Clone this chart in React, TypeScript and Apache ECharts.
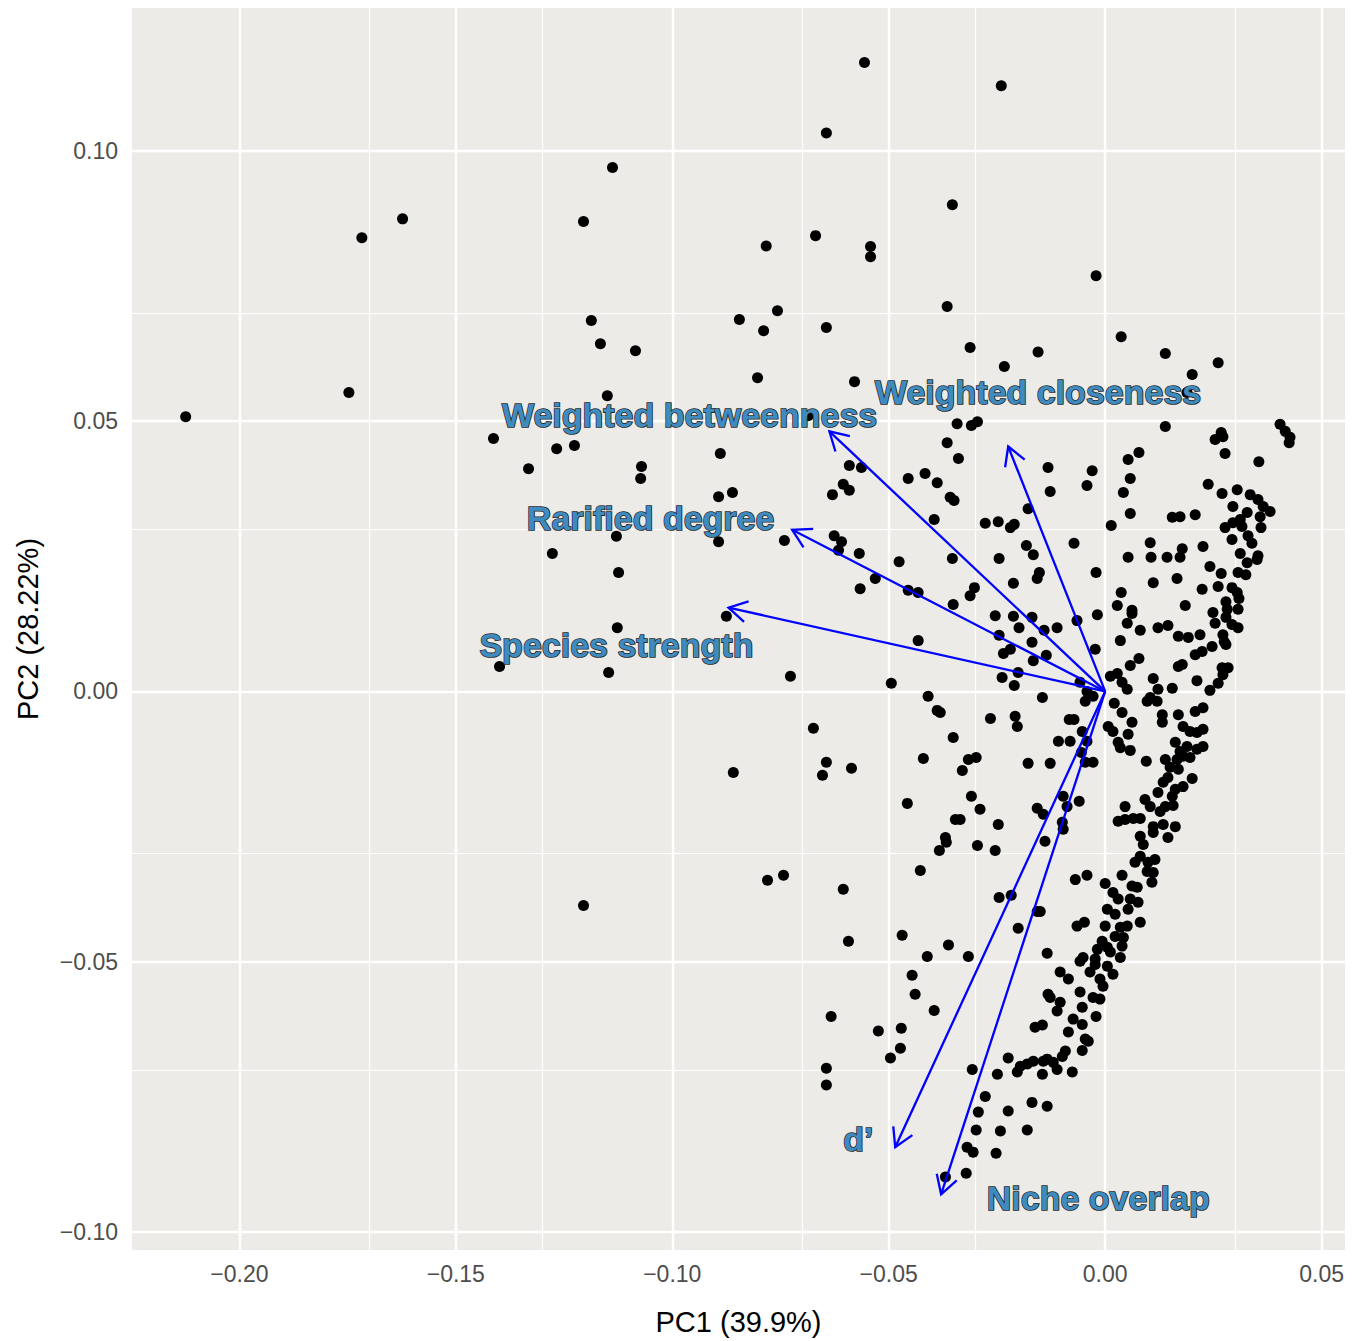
import React, { useEffect, useRef } from "react";
import * as echarts from "echarts";

// PCA scores (PC1, PC2)
const scores: number[][] = [
  [-0.0556,0.1163],[-0.0240,0.1120],[-0.0644,0.1033],[-0.1138,0.0969],[-0.1623,0.0874],[-0.1717,0.0839],[-0.1205,0.0869],[-0.0353,0.0900],[-0.0783,0.0824],[-0.0669,0.0843],[-0.0542,0.0823],[-0.0542,0.0804],[-0.0021,0.0769],[-0.0757,0.0704],[-0.0845,0.0688],[-0.0789,0.0667],[-0.0644,0.0673],[-0.0365,0.0712],[-0.1187,0.0686],[-0.1166,0.0643],[-0.1085,0.0630],[-0.0312,0.0636],[-0.0155,0.0628],[-0.0233,0.0601],[0.0037,0.0656],[0.0139,0.0625],[0.0261,0.0608],[0.0201,0.0586],[-0.0803,0.0580],[-0.0579,0.0573],[-0.1747,0.0553],[-0.2124,0.0508],[-0.1150,0.0547],[0.0189,0.0553],
  [-0.1413,0.0468],[-0.1267,0.0449],[-0.1226,0.0455],[-0.1332,0.0412],[-0.1071,0.0416],[-0.1073,0.0394],[-0.0889,0.0440],[-0.0893,0.0360],[-0.0861,0.0368],[-0.0591,0.0418],[-0.0563,0.0414],[-0.0605,0.0383],[-0.0591,0.0372],[-0.0630,0.0364],[-0.0686,0.0510],[-0.1129,0.0287],[-0.0893,0.0277],[-0.0741,0.0279],[-0.0626,0.0288],[-0.0609,0.0277],[-0.0616,0.0261],[-0.0568,0.0255],[-0.1277,0.0255],[-0.1124,0.0220],[-0.0531,0.0209],[-0.0566,0.0190],[-0.0875,0.0139],[-0.1127,0.0118],[-0.1399,0.0046],[-0.1147,0.0035],[-0.0727,0.0028],[-0.0494,0.0015],
  [-0.0674,-0.0068],[-0.0859,-0.0150],[-0.0644,-0.0131],[-0.0653,-0.0155],[-0.0586,-0.0142],[-0.1205,-0.0396],[-0.0780,-0.0349],[-0.0743,-0.0340],[-0.0605,-0.0366],[-0.0593,-0.0462],[-0.0633,-0.0601],[-0.0644,-0.0697],[-0.0644,-0.0728],[-0.0524,-0.0628],[-0.0471,-0.0623],[-0.0496,-0.0678],[-0.0473,-0.0660],
  [-0.0342,0.0495],[-0.0309,0.0492],[-0.0295,0.0499],[-0.0365,0.0460],[-0.0339,0.0431],[-0.0132,0.0414],[-0.0030,0.0408],[-0.0042,0.0381],[-0.0455,0.0394],[-0.0416,0.0403],[-0.0388,0.0386],[-0.0358,0.0359],[-0.0349,0.0353],[-0.0178,0.0338],[-0.0395,0.0318],[-0.0277,0.0311],[-0.0247,0.0314],[-0.0219,0.0303],[-0.0210,0.0309],[-0.0182,0.0270],[-0.0166,0.0253],[-0.0072,0.0274],[-0.0476,0.0240],[-0.0353,0.0246],[-0.0245,0.0246],[-0.0127,0.0370],
  [-0.0455,0.0187],[-0.0432,0.0183],[-0.0302,0.0192],[-0.0312,0.0177],[-0.0351,0.0161],[-0.0212,0.0200],[-0.0152,0.0220],[-0.0157,0.0209],[-0.0021,0.0220],[-0.0254,0.0140],[-0.0212,0.0139],[-0.0199,0.0118],[-0.0169,0.0137],[-0.0141,0.0113],[-0.0111,0.0118],[-0.0065,0.0131],[-0.0018,0.0142],[-0.0245,0.0104],[-0.0169,0.0091],[-0.0219,0.0078],[-0.0235,0.0070],[-0.0136,0.0067],[-0.0166,0.0057],[-0.0023,0.0078],[-0.0432,0.0094],[-0.0238,0.0026],[-0.0201,0.0035],[-0.0210,0.0011],[-0.0409,-0.0009],[-0.0145,-0.0011],[-0.0058,0.0017],[-0.0042,0.0000],[-0.0028,-0.0009],
  [0.0139,0.0490],[0.0268,0.0479],[0.0254,0.0466],[0.0272,0.0471],[0.0404,0.0494],[0.0416,0.0481],[0.0427,0.0470],[0.0425,0.0460],[0.0078,0.0442],[0.0053,0.0429],[0.0277,0.0440],[0.0355,0.0425],[0.0058,0.0394],[0.0042,0.0368],[0.0238,0.0383],[0.0270,0.0366],[0.0305,0.0373],[0.0335,0.0364],[0.0353,0.0355],[0.0295,0.0342],[0.0365,0.0342],[0.0381,0.0333],[0.0328,0.0331],[0.0312,0.0318],[0.0358,0.0323],[0.0277,0.0303],[0.0295,0.0312],[0.0316,0.0305],[0.0360,0.0303],[0.0058,0.0329],[0.0014,0.0307],[0.0155,0.0322],[0.0173,0.0323],[0.0208,0.0327],[0.0104,0.0275],[0.0178,0.0264],[0.0226,0.0268],[0.0312,0.0255],[0.0339,0.0274],[0.0353,0.0251],[0.0053,0.0248],[0.0106,0.0248],[0.0143,0.0248],[0.0173,0.0248],[0.0330,0.0288],[0.0293,0.0281],
  [0.0242,0.0231],[0.0268,0.0218],[0.0307,0.0220],[0.0325,0.0216],[0.0328,0.0238],[0.0351,0.0244],[0.0111,0.0201],[0.0166,0.0209],[0.0224,0.0189],[0.0261,0.0194],[0.0293,0.0192],[0.0305,0.0183],[0.0037,0.0183],[0.0028,0.0159],[0.0062,0.0150],[0.0062,0.0144],[0.0051,0.0126],[0.0081,0.0113],[0.0122,0.0118],[0.0145,0.0122],[0.0185,0.0159],[0.0279,0.0166],[0.0309,0.0172],[0.0282,0.0152],[0.0307,0.0152],[0.0249,0.0146],[0.0254,0.0126],[0.0279,0.0137],[0.0293,0.0124],[0.0307,0.0118],[0.0169,0.0102],[0.0192,0.0100],[0.0219,0.0105],[0.0272,0.0105],[0.0275,0.0092],[0.0279,0.0087],[0.0247,0.0083],[0.0035,0.0094],[0.0208,0.0068],[0.0224,0.0074],[0.0169,0.0046],[0.0178,0.0050],[0.0058,0.0048],[0.0078,0.0061],[0.0270,0.0044],[0.0284,0.0044],[0.0272,0.0031],[0.0212,0.0020],[0.0111,0.0024],[0.0261,0.0015],[0.0242,0.0002],[0.0012,0.0028],[0.0028,0.0033],[0.0039,0.0017],[0.0051,0.0004],[0.0122,0.0004],[0.0155,0.0006],[0.0104,-0.0011],
  [0.0021,-0.0022],[0.0039,-0.0039],[0.0062,-0.0057],[0.0097,-0.0018],[0.0120,-0.0018],[0.0132,-0.0043],[0.0132,-0.0057],[0.0169,-0.0043],[0.0208,-0.0037],[0.0226,-0.0030],[0.0180,-0.0065],[0.0196,-0.0074],[0.0212,-0.0076],[0.0226,-0.0070],[0.0007,-0.0065],[0.0018,-0.0074],[0.0053,-0.0079],[0.0030,-0.0094],[0.0035,-0.0104],[0.0058,-0.0109],[-0.0028,-0.0131],[0.0095,-0.0129],[0.0139,-0.0126],[0.0150,-0.0140],[0.0166,-0.0126],[0.0180,-0.0120],[0.0196,-0.0122],[0.0169,-0.0144],[0.0212,-0.0107],[0.0226,-0.0102],[0.0162,-0.0094],[0.0173,-0.0111],[0.0189,-0.0102],[0.0145,-0.0159],[0.0134,-0.0168],[0.0122,-0.0187],[0.0201,-0.0161],[0.0180,-0.0176],[0.0162,-0.0181],[0.0155,-0.0194],[0.0092,-0.0200],[0.0104,-0.0213],[0.0046,-0.0213],[0.0139,-0.0213],[0.0127,-0.0222],[0.0157,-0.0211],[0.0030,-0.0240],[0.0046,-0.0237],[0.0065,-0.0235],[0.0081,-0.0235],[0.0111,-0.0250],[0.0134,-0.0246],[0.0162,-0.0250],[0.0145,-0.0270],
  [-0.0139,-0.0277],[-0.0097,-0.0255],[-0.0069,-0.0348],[-0.0042,-0.0340],[0.0000,-0.0355],[0.0018,-0.0372],[0.0030,-0.0384],[0.0039,-0.0340],[0.0062,-0.0360],[0.0074,-0.0362],[0.0058,-0.0384],[0.0076,-0.0390],[0.0053,-0.0403],[0.0005,-0.0403],[0.0023,-0.0412],[0.0081,-0.0268],[0.0088,-0.0283],[0.0111,-0.0261],[0.0081,-0.0305],[0.0099,-0.0316],[0.0115,-0.0311],[0.0111,-0.0335],[0.0097,-0.0333],[0.0069,-0.0316],[0.0108,-0.0353],[-0.0150,-0.0407],[-0.0065,-0.0434],[-0.0048,-0.0427],[0.0000,-0.0434],[0.0035,-0.0436],[0.0051,-0.0434],[0.0023,-0.0453],[0.0042,-0.0455],[0.0081,-0.0427],[-0.0007,-0.0462],[0.0005,-0.0473],[-0.0018,-0.0477],[0.0012,-0.0482],[0.0039,-0.0471],[-0.0134,-0.0484],[-0.0051,-0.0492],[-0.0023,-0.0495],[0.0035,-0.0492],
  [-0.0388,-0.0035],[-0.0381,-0.0039],[-0.0265,-0.0050],[-0.0208,-0.0046],[-0.0203,-0.0065],[-0.0046,-0.0018],[-0.0351,-0.0085],[-0.0083,-0.0052],[-0.0072,-0.0052],[-0.0053,-0.0074],[-0.0108,-0.0092],[-0.0081,-0.0092],[-0.0042,-0.0092],[-0.0420,-0.0124],[-0.0316,-0.0126],[-0.0298,-0.0122],[-0.0330,-0.0146],[-0.0178,-0.0133],[-0.0127,-0.0133],[-0.0055,-0.0113],[-0.0046,-0.0131],[-0.0457,-0.0207],[-0.0309,-0.0194],[-0.0289,-0.0218],[-0.0346,-0.0237],[-0.0335,-0.0237],[-0.0247,-0.0246],[-0.0157,-0.0216],[-0.0143,-0.0227],[-0.0097,-0.0194],[-0.0088,-0.0213],[-0.0060,-0.0203],[-0.0099,-0.0242],
  [-0.0369,-0.0270],[-0.0367,-0.0279],[-0.0383,-0.0294],[-0.0295,-0.0285],[-0.0254,-0.0294],[-0.0427,-0.0331],[-0.0245,-0.0381],[-0.0217,-0.0377],[-0.0157,-0.0407],[-0.0201,-0.0438],[-0.0469,-0.0451],[-0.0362,-0.0469],[-0.0411,-0.0490],[-0.0316,-0.0490],
  [-0.0446,-0.0525],[-0.0439,-0.0560],[-0.0395,-0.0590],[-0.0307,-0.0699],[-0.0224,-0.0678],[-0.0249,-0.0708],[-0.0196,-0.0693],[-0.0203,-0.0704],[-0.0180,-0.0689],[-0.0166,-0.0684],[-0.0143,-0.0684],[-0.0134,-0.0680],[-0.0120,-0.0686],[-0.0099,-0.0675],[-0.0092,-0.0665],[-0.0111,-0.0699],[-0.0145,-0.0708],[-0.0076,-0.0704],[-0.0162,-0.0621],[-0.0145,-0.0617],[-0.0104,-0.0519],[-0.0085,-0.0532],[-0.0132,-0.0560],[-0.0127,-0.0566],[-0.0104,-0.0575],[-0.0111,-0.0591],[-0.0058,-0.0556],[-0.0053,-0.0584],[-0.0074,-0.0606],[-0.0053,-0.0616],[-0.0085,-0.0630],[-0.0046,-0.0643],[-0.0039,-0.0647],[-0.0053,-0.0664],[-0.0021,-0.0601],[-0.0035,-0.0519],[-0.0023,-0.0505],[-0.0012,-0.0532],[-0.0005,-0.0545],[-0.0028,-0.0566],[-0.0012,-0.0569],[-0.0058,-0.0499],[0.0005,-0.0508],[0.0018,-0.0523],
  [-0.0277,-0.0749],[-0.0169,-0.0760],[-0.0134,-0.0767],[-0.0293,-0.0778],[-0.0224,-0.0776],[-0.0298,-0.0811],[-0.0242,-0.0813],[-0.0180,-0.0811],[-0.0319,-0.0843],[-0.0305,-0.0852],[-0.0252,-0.0854],[-0.0321,-0.0891],[-0.0369,-0.0898]
];

// Variable loadings (arrow tips) and label anchors
const loadingNames = ["Weighted betweenness", "Weighted closeness", "Rarified degree", "Species strength", "d\u2019", "Niche overlap"];
const loadingPC1 = [-0.0637, -0.0224, -0.0723, -0.0870, -0.0485, -0.0379];
const loadingPC2 = [0.0481, 0.0453, 0.0299, 0.0155, -0.0843, -0.0930];
const labelPC1 = [-0.0960, -0.0155, -0.1050, -0.1129, -0.0570, -0.0016];
const labelPC2 = [0.0512, 0.0553, 0.0320, 0.0085, -0.0828, -0.0937];

// Axis ticks and grid
const xTicks = [-0.2, -0.15, -0.1, -0.05, 0, 0.05];
const xMinor = [-0.175, -0.125, -0.075, -0.025, 0.025];
const yTicks = [-0.1, -0.05, 0, 0.05, 0.1];
const yMinor = [-0.075, -0.025, 0.025, 0.075, 0.125];

const FONT = "'Liberation Sans', Arial, Helvetica, sans-serif";
const fmt = (v: number) => (v < 0 ? "\u2212" : "") + Math.abs(v).toFixed(2);

export default function App() {
  const ref = useRef<HTMLDivElement>(null);
  useEffect(() => {
    const chart = echarts.init(ref.current!, null, { renderer: "svg" });
    const gridLines = [
      ...xTicks.map((v) => ({ xAxis: v, lineStyle: { width: 2.4 } })),
      ...xMinor.map((v) => ({ xAxis: v, lineStyle: { width: 1.2 } })),
      ...yTicks.map((v) => ({ yAxis: v, lineStyle: { width: 2.4 } })),
      ...yMinor.map((v) => ({ yAxis: v, lineStyle: { width: 1.2 } })),
    ];
    const option: any = {
      animation: false,
      backgroundColor: "#FFFFFF",
      grid: { left: 132, right: 18, top: 8, bottom: 90, show: true, backgroundColor: "#EDEBE7", borderWidth: 0 },
      xAxis: {
        type: "value", min: -0.2248, max: 0.0554,
        axisLine: { show: false }, splitLine: { show: false },
        axisTick: { show: true, length: 7, customValues: xTicks, lineStyle: { color: "#333333", width: 2 } },
        axisLabel: { customValues: xTicks, formatter: fmt, color: "#4D4D4D", fontSize: 23, margin: 12, fontFamily: FONT },
        name: "PC1 (39.9%)", nameLocation: "middle", nameGap: 57,
        nameTextStyle: { fontSize: 29, color: "#000000", fontFamily: FONT },
      },
      yAxis: {
        type: "value", min: -0.1033, max: 0.1264,
        axisLine: { show: false }, splitLine: { show: false },
        axisTick: { show: true, length: 7, customValues: yTicks, lineStyle: { color: "#333333", width: 2 } },
        axisLabel: { customValues: yTicks, formatter: fmt, color: "#4D4D4D", fontSize: 23, margin: 14, fontFamily: FONT },
        name: "PC2 (28.22%)", nameLocation: "middle", nameGap: 90, nameRotate: 90,
        nameTextStyle: { fontSize: 29, color: "#000000", fontFamily: FONT },
      },
      series: [
        {
          type: "scatter", data: [], z: 1, silent: true,
          markLine: {
            silent: true, symbol: ["none", "none"], z: 1, animation: false,
            label: { show: false }, emphasis: { disabled: true },
            lineStyle: { color: "#FFFFFF", type: "solid" },
            data: gridLines,
          },
        },
        {
          type: "scatter", data: scores, symbol: "circle", symbolSize: 11, z: 2,
          itemStyle: { color: "#000000", opacity: 1 },
        },
        {
          type: "custom", z: 3, clip: false,
          data: loadingPC1.map((x, i) => [x, loadingPC2[i]]),
          renderItem: (params: any, api: any) => {
            const o = api.coord([0, 0]);
            const t = api.coord([api.value(0), api.value(1)]);
            const ang = Math.atan2(t[1] - o[1], t[0] - o[0]);
            const L = 21, a = Math.PI / 6;
            const p1 = [t[0] - L * Math.cos(ang - a), t[1] - L * Math.sin(ang - a)];
            const p2 = [t[0] - L * Math.cos(ang + a), t[1] - L * Math.sin(ang + a)];
            return {
              type: "group",
              children: [
                { type: "line", shape: { x1: o[0], y1: o[1], x2: t[0], y2: t[1] }, style: { stroke: "#0000FF", lineWidth: 2.3 } },
                { type: "polyline", shape: { points: [p1, t, p2] }, style: { stroke: "#0000FF", lineWidth: 2.3, fill: null } },
              ],
            };
          },
        },
        {
          type: "custom", z: 4, clip: false,
          data: labelPC1.map((x, i) => [x, labelPC2[i]]),
          renderItem: (params: any, api: any) => {
            const p = api.coord([api.value(0), api.value(1)]);
            return {
              type: "text", x: p[0], y: p[1],
              style: {
                text: loadingNames[params.dataIndex],
                fill: "#3F8BBF", stroke: "#2A2A2A", lineWidth: 1.6,
                fontSize: 34, fontWeight: "bold", fontFamily: FONT,
                align: "center", verticalAlign: "middle",
              },
            };
          },
        },
      ],
    };
    chart.setOption(option);
    return () => chart.dispose();
  }, []);
  return <div ref={ref} style={{ position: "fixed", left: 0, top: 0, width: 1363, height: 1341 }} />;
}
